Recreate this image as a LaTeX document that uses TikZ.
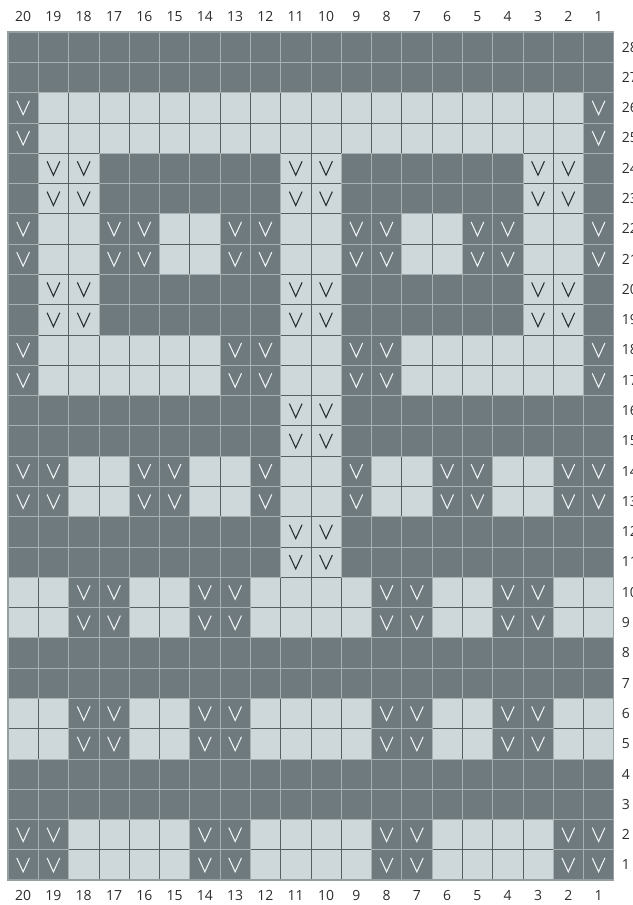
\documentclass[tikz,border=0pt]{standalone}
\usepackage{fontspec}
\newfontfamily\chartfont{Open Sans}
\usetikzlibrary{positioning}

\definecolor{chartdark}{RGB}{111,122,127}
\definecolor{chartlight}{RGB}{206,216,218}
\definecolor{gridhi}{RGB}{168,176,178}
\definecolor{gridlo}{RGB}{88,95,98}
\definecolor{framegray}{RGB}{150,158,161}
\definecolor{vlight}{RGB}{238,242,242}
\definecolor{vdark}{RGB}{40,45,48}
\definecolor{numgray}{RGB}{45,45,45}

% row number / stitch codes from column 20 (left) to column 1 (right)
% 0 dark, 1 light, 2 dark + slip, 3 light + slip
\def\chartrows{%
28/{0,0,0,0,0,0,0,0,0,0,0,0,0,0,0,0,0,0,0,0},
27/{0,0,0,0,0,0,0,0,0,0,0,0,0,0,0,0,0,0,0,0},
26/{2,1,1,1,1,1,1,1,1,1,1,1,1,1,1,1,1,1,1,2},
25/{2,1,1,1,1,1,1,1,1,1,1,1,1,1,1,1,1,1,1,2},
24/{0,3,3,0,0,0,0,0,0,3,3,0,0,0,0,0,0,3,3,0},
23/{0,3,3,0,0,0,0,0,0,3,3,0,0,0,0,0,0,3,3,0},
22/{2,1,1,2,2,1,1,2,2,1,1,2,2,1,1,2,2,1,1,2},
21/{2,1,1,2,2,1,1,2,2,1,1,2,2,1,1,2,2,1,1,2},
20/{0,3,3,0,0,0,0,0,0,3,3,0,0,0,0,0,0,3,3,0},
19/{0,3,3,0,0,0,0,0,0,3,3,0,0,0,0,0,0,3,3,0},
18/{2,1,1,1,1,1,1,2,2,1,1,2,2,1,1,1,1,1,1,2},
17/{2,1,1,1,1,1,1,2,2,1,1,2,2,1,1,1,1,1,1,2},
16/{0,0,0,0,0,0,0,0,0,3,3,0,0,0,0,0,0,0,0,0},
15/{0,0,0,0,0,0,0,0,0,3,3,0,0,0,0,0,0,0,0,0},
14/{2,2,1,1,2,2,1,1,2,1,1,2,1,1,2,2,1,1,2,2},
13/{2,2,1,1,2,2,1,1,2,1,1,2,1,1,2,2,1,1,2,2},
12/{0,0,0,0,0,0,0,0,0,3,3,0,0,0,0,0,0,0,0,0},
11/{0,0,0,0,0,0,0,0,0,3,3,0,0,0,0,0,0,0,0,0},
10/{1,1,2,2,1,1,2,2,1,1,1,1,2,2,1,1,2,2,1,1},
9/{1,1,2,2,1,1,2,2,1,1,1,1,2,2,1,1,2,2,1,1},
8/{0,0,0,0,0,0,0,0,0,0,0,0,0,0,0,0,0,0,0,0},
7/{0,0,0,0,0,0,0,0,0,0,0,0,0,0,0,0,0,0,0,0},
6/{1,1,2,2,1,1,2,2,1,1,1,1,2,2,1,1,2,2,1,1},
5/{1,1,2,2,1,1,2,2,1,1,1,1,2,2,1,1,2,2,1,1},
4/{0,0,0,0,0,0,0,0,0,0,0,0,0,0,0,0,0,0,0,0},
3/{0,0,0,0,0,0,0,0,0,0,0,0,0,0,0,0,0,0,0,0},
2/{2,2,1,1,1,1,2,2,1,1,1,1,2,2,1,1,1,1,2,2},
1/{2,2,1,1,1,1,2,2,1,1,1,1,2,2,1,1,1,1,2,2}}

\begin{document}
\begin{tikzpicture}[
    x=0.8cm, y=0.8cm,
    lightcell/.style={fill=chartlight, draw=gridlo, line width=0.45pt},
    darkcell/.style={fill=chartdark, draw=gridhi, line width=0.45pt},
    slipmark/.style={line width=0.8pt, line join=miter},
    colnum/.style={font=\chartfont\fontsize{10.5}{12}\selectfont, text=numgray, inner sep=0pt},
    rownum/.style={font=\chartfont\fontsize{10.5}{12}\selectfont, text=numgray, inner sep=0pt, anchor=west},
]
\useasboundingbox (-0.264,-0.825) rectangle (20.627,29.056);

% light squares first, dark squares on top of them
\foreach \r/\p in \chartrows {
    \foreach \c [count=\i] in \p {
        \ifodd\c\relax
            \path[lightcell] (\i-1,\r-1) rectangle (\i,\r);
        \fi
    }
}
\foreach \r/\p in \chartrows {
    \foreach \c [count=\i] in \p {
        \ifodd\c\relax\else
            \path[darkcell] (\i-1,\r-1) rectangle (\i,\r);
        \fi
    }
}

% slip stitch symbols
\foreach \r/\p in \chartrows {
    \foreach \c [count=\i] in \p {
        \ifnum\c=2
            \draw[slipmark, vlight, shift={(\i-0.5,\r-0.5)}] (-0.21,0.23) -- (0,-0.23) -- (0.21,0.23);
        \fi
        \ifnum\c=3
            \draw[slipmark, vdark, shift={(\i-0.5,\r-0.5)}] (-0.21,0.23) -- (0,-0.23) -- (0.21,0.23);
        \fi
    }
}

% chart frame
\draw[framegray, line width=0.9pt] (0,0) rectangle (20,28);

% column and row numbers
\foreach \i in {1,...,20} {
    \pgfmathtruncatemacro{\n}{21-\i}
    \node[colnum] (top\n) at (\i-0.5,28.52) {\n};
    \node[colnum] (bot\n) at (\i-0.5,-0.52) {\n};
}
\foreach \r in {1,...,28} {
    \node[rownum] (row\r) at (20.26,\r-0.5) {\r};
}

\end{tikzpicture}
\end{document}
